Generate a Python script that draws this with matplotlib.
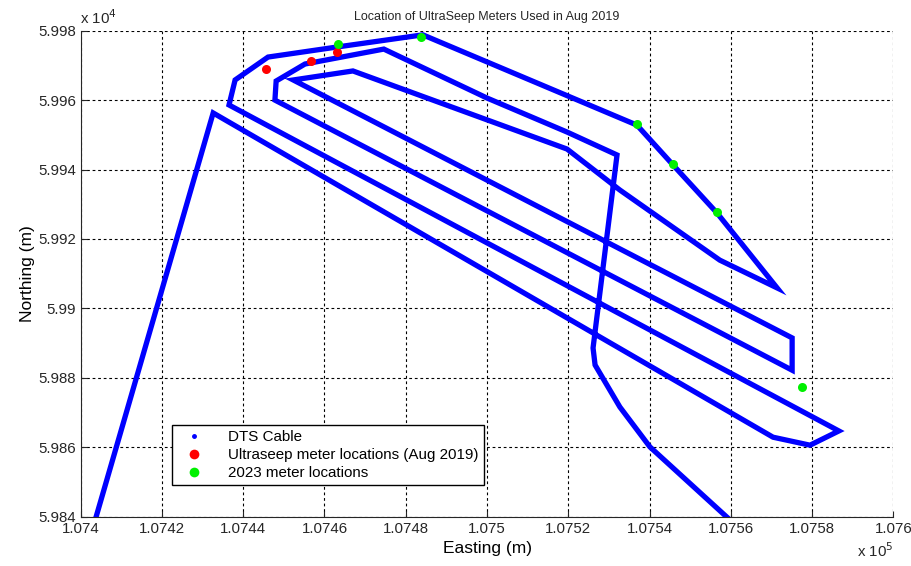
import matplotlib
matplotlib.use("Agg")
import matplotlib.pyplot as plt
from matplotlib.lines import Line2D
from matplotlib.ticker import FuncFormatter, MultipleLocator

# DTS cable path (easting, northing in m)
cable_e = [107403.8, 107432.6, 107570.4, 107579.5, 107586.6, 107436.5, 107438.0,
           107446.1, 107463.1, 107484.2, 107536.9, 107545.8, 107556.6, 107571.4,
           107557.3, 107532.7, 107519.7, 107467.0, 107452.3, 107575.1, 107575.1,
           107447.8, 107448.1, 107455.2, 107474.6, 107500.0, 107519.7, 107532.0,
           107526.1, 107526.6, 107532.7, 107540.1, 107559.3]
cable_n = [59840.0, 59956.3, 59862.9, 59860.6, 59864.7, 59958.6, 59965.8,
           59972.4, 59975.3, 59978.8, 59952.8, 59941.3, 59927.5, 59905.9,
           59913.9, 59934.1, 59945.9, 59968.4, 59965.8, 59891.5, 59882.2,
           59960.0, 59965.5, 59970.4, 59974.7, 59960.6, 59950.8, 59944.2,
           59888.6, 59883.7, 59871.6, 59860.1, 59839.6]

# Ultraseep meters, Aug 2019
red_e = [107445.6, 107456.6, 107463.1]
red_n = [59968.9, 59971.4, 59973.9]

# 2023 meter locations
green_e = [107463.3, 107483.7, 107536.8, 107545.8, 107556.5, 107577.6]
green_n = [59976.1, 59978.1, 59953.1, 59941.5, 59927.7, 59877.3]

plt.rcParams['font.family'] = ['Liberation Sans', 'DejaVu Sans']

fig = plt.figure(figsize=(9.12, 5.66), dpi=100)
ax = fig.add_axes([0.0885, 0.0871, 0.891, 0.8587])

ax.plot(cable_e, cable_n, '-', color='#0000FF', lw=3.8, solid_joinstyle='miter', zorder=3)
ax.plot(red_e, red_n, 'o', color='#FF0000', ms=6.5, mec='none', zorder=4)
ax.plot(green_e, green_n, 'o', color='#00F000', ms=6.5, mec='none', zorder=5)

ax.set_xlim(107400, 107600)
ax.set_ylim(59840, 59980)
ax.xaxis.set_major_locator(MultipleLocator(20))
ax.yaxis.set_major_locator(MultipleLocator(20))
ax.xaxis.set_major_formatter(FuncFormatter(lambda v, p: f"{v / 1e5:g}"))
ax.yaxis.set_major_formatter(FuncFormatter(lambda v, p: f"{v / 1e4:g}"))
ax.tick_params(direction='in', length=4, labelsize=10.8, colors='#262626')
ax.grid(True, color='black', linestyle=(0, (2.5, 2.5)), linewidth=0.8)
ax.set_axisbelow(True)
for s in ['top', 'right']:
    ax.spines[s].set_visible(False)
for s in ['left', 'bottom']:
    ax.spines[s].set_color('#262626')

ax.set_xlabel('Easting (m)', fontsize=12.5, labelpad=4)
ax.set_ylabel('Northing (m)', fontsize=12.5, labelpad=2)
ax.set_title('Location of UltraSeep Meters Used in Aug 2019', fontsize=9, pad=8,
             color='#262626')

fig.text(0.088, 0.968, r'x 10$^4$', fontsize=10.8, color='#262626', ha='left', va='center')
fig.text(0.979, 0.028, r'x 10$^5$', fontsize=10.8, color='#262626', ha='right', va='center')

handles = [
    Line2D([], [], ls='none', marker='.', color='#0000FF', ms=5),
    Line2D([], [], ls='none', marker='o', color='#FF0000', mec='none', ms=7),
    Line2D([], [], ls='none', marker='o', color='#00F000', mec='none', ms=7),
]
labels = ['DTS Cable', 'Ultraseep meter locations (Aug 2019)', '2023 meter locations']
leg = ax.legend(handles, labels, loc='lower left', bbox_to_anchor=(0.112, 0.065),
                borderaxespad=0, fontsize=10.9, fancybox=False, framealpha=1,
                edgecolor='black', handlelength=2.2, handletextpad=1.2,
                labelspacing=0.25, borderpad=0.35)
leg.get_frame().set_linewidth(1.0)

fig.savefig('out.png', dpi=100)
